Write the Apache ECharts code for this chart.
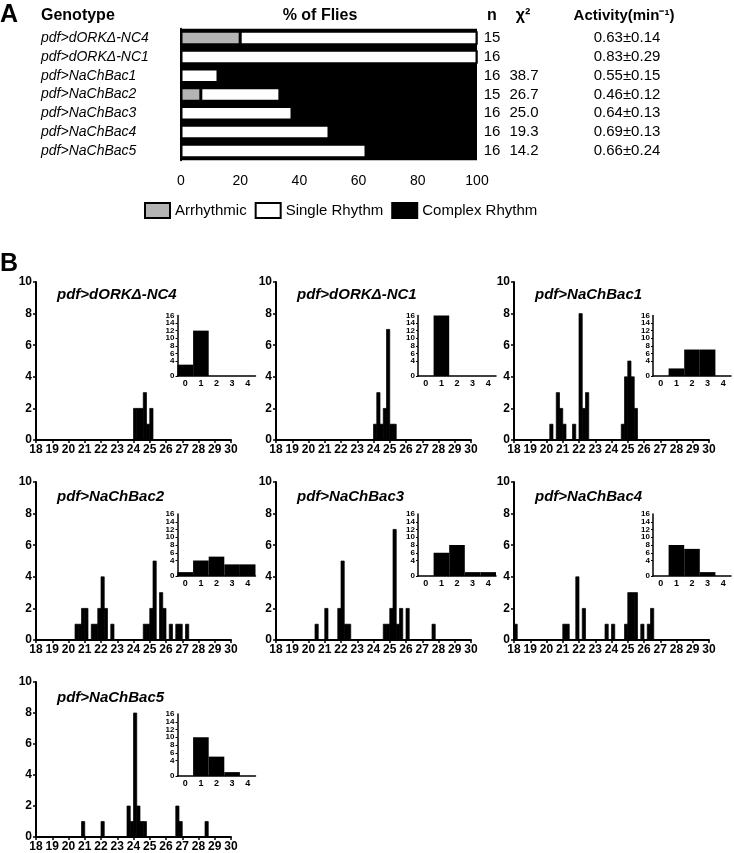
<!DOCTYPE html>
<html><head><meta charset="utf-8">
<script src="https://cdn.jsdelivr.net/npm/echarts@6/dist/echarts.min.js"></script>
<style>html,body{margin:0;padding:0;background:#fff}#c{width:734px;height:853px}</style>
</head><body><div id="c"></div>
<script>
// ---------- Panel A data ----------
const genotypes = ['pdf>dORKΔ-NC4', 'pdf>dORKΔ-NC1', 'pdf>NaChBac1', 'pdf>NaChBac2', 'pdf>NaChBac3', 'pdf>NaChBac4', 'pdf>NaChBac5'];
const pctArrhythmic = [20, 0, 0, 6.7, 0, 0, 0];
const pctSingle = [80, 100, 12.5, 26.7, 37.5, 50, 62.5];
const pctComplex = [0, 0, 87.5, 66.6, 62.5, 50, 37.5];
const nFlies = ['15', '16', '16', '15', '16', '16', '16'];
const chiSquare = ['', '', '38.7', '26.7', '25.0', '19.3', '14.2'];
const activity = ['0.63±0.14', '0.83±0.29', '0.55±0.15', '0.46±0.12', '0.64±0.13', '0.69±0.13', '0.66±0.24'];
const pctTicks = [0, 20, 40, 60, 80, 100];

// ---------- Panel B data (period histograms, bin lower edge in h, bin width 0.2 h) ----------
const BIN = 0.2;
const nc4Period = [24.0, 24.2, 24.4, 24.6, 24.8, 25.0];
const nc4Count  = [2, 2, 2, 3, 1, 2];
const nc1Period = [24.0, 24.2, 24.4, 24.6, 24.8, 25.0, 25.2];
const nc1Count  = [1, 3, 1, 2, 7, 1, 1];
const nab1Period = [20.2, 20.6, 20.8, 21.0, 21.6, 22.0, 22.2, 22.4, 24.6, 24.8, 25.0, 25.2, 25.4];
const nab1Count  = [1, 3, 2, 1, 1, 8, 2, 3, 1, 4, 5, 4, 2];
const nab2Period = [20.4, 20.6, 20.8, 21.0, 21.4, 21.6, 21.8, 22.0, 22.2, 22.6, 24.6, 24.8, 25.0, 25.2, 25.6, 25.8, 26.2, 26.6, 26.8, 27.2];
const nab2Count  = [1, 1, 2, 2, 1, 1, 2, 4, 2, 1, 1, 1, 2, 5, 3, 2, 1, 1, 1, 1];
const nab3Period = [20.4, 21.0, 21.8, 22.0, 22.2, 22.4, 24.6, 24.8, 25.0, 25.2, 25.4, 25.6, 26.0, 27.6];
const nab3Count  = [1, 2, 2, 5, 1, 1, 1, 1, 2, 7, 1, 2, 2, 1];
const nab4Period = [18.0, 21.0, 21.2, 21.8, 22.2, 23.6, 24.0, 24.8, 25.0, 25.2, 25.4, 25.8, 26.2, 26.4];
const nab4Count  = [1, 1, 1, 4, 2, 1, 1, 1, 3, 3, 3, 1, 1, 2];
const nab5Period = [20.8, 22.0, 23.6, 23.8, 24.0, 24.2, 24.4, 24.6, 26.6, 26.8, 28.4];
const nab5Count  = [1, 1, 2, 1, 8, 2, 1, 1, 2, 1, 1];

// insets: number of flies by number of rhythm components
const peakCats = ['0', '1', '2', '3', '4'];
const nc4Peaks  = [3, 12, 0, 0, 0];
const nc1Peaks  = [0, 16, 0, 0, 0];
const nab1Peaks = [0, 2, 7, 7, 0];
const nab2Peaks = [1, 4, 5, 3, 3];
const nab3Peaks = [0, 6, 8, 1, 1];
const nab4Peaks = [0, 8, 7, 1, 0];
const nab5Peaks = [0, 10, 5, 1, 0];

const histPeriods = [nc4Period, nc1Period, nab1Period, nab2Period, nab3Period, nab4Period, nab5Period];
const histCounts  = [nc4Count, nc1Count, nab1Count, nab2Count, nab3Count, nab4Count, nab5Count];
const insetCounts = [nc4Peaks, nc1Peaks, nab1Peaks, nab2Peaks, nab3Peaks, nab4Peaks, nab5Peaks];

// ---------- layout ----------
const FF = '"Liberation Sans", Arial, sans-serif';
const colLeft = [36, 276, 514];
const rowTop = [282, 482, 682];
const mainW = 195, mainH = 158;
const insetLeft = [177.5, 418, 653];
const insetTop = [315.5, 514, 714];
const insetH = [60.5, 62, 62];
const insetW = 78;
const titleX = [57, 297, 535];
const titleY = [295, 497, 698];

const grids = [{left: 181, top: 28.7, width: 296, height: 131.6, show: true, backgroundColor: '#000', borderWidth: 0}];
const xAxes = [{
  gridIndex: 0, type: 'value', min: 0, max: 100, interval: 20, offset: 2,
  axisLine: {lineStyle: {color: '#000', width: 2.5}},
  axisTick: {length: 8, lineStyle: {color: '#000', width: 2}},
  axisLabel: {color: '#000', fontSize: 14, fontFamily: FF, margin: 12, showMinLabel: true, showMaxLabel: true,
    formatter: v => pctTicks.includes(v) ? String(v) : ''},
  splitLine: {show: false}
}];
const catBase = {gridIndex: 0, type: 'category', inverse: true, axisTick: {show: false}, splitLine: {show: false}};
function colLabel(margin, extra) {
  return Object.assign({color: '#000', fontSize: 15, fontFamily: FF, align: 'center', margin: margin, interval: 0,
    showMinLabel: true, showMaxLabel: true}, extra || {});
}
const yAxes = [
  Object.assign({}, catBase, {data: genotypes, position: 'left',
    axisLine: {lineStyle: {color: '#000', width: 2}},
    axisLabel: {color: '#000', fontSize: 14, fontStyle: 'italic', fontFamily: FF, align: 'left', margin: 140,
      interval: 0, showMinLabel: true, showMaxLabel: true}}),
  Object.assign({}, catBase, {data: nFlies, position: 'right', axisLine: {show: false}, axisLabel: colLabel(15)}),
  Object.assign({}, catBase, {data: chiSquare, position: 'right', axisLine: {show: false}, axisLabel: colLabel(47)}),
  Object.assign({}, catBase, {data: activity, position: 'right', axisLine: {show: false}, axisLabel: colLabel(150)})
];
const barBase = {type: 'bar', stack: 'pct', xAxisIndex: 0, yAxisIndex: 0, barWidth: 13.5, animation: false};
const series = [
  Object.assign({}, barBase, {name: 'Arrhythmic', data: pctArrhythmic, itemStyle: {color: '#b4b4b4', borderColor: '#000', borderWidth: 1.5}}),
  Object.assign({}, barBase, {name: 'Single Rhythm', data: pctSingle, itemStyle: {color: '#fff', borderColor: '#000', borderWidth: 1.5}}),
  Object.assign({}, barBase, {name: 'Complex Rhythm', data: pctComplex, itemStyle: {color: '#000', borderColor: '#000', borderWidth: 1.5}})
];

function histItem(params, api) {
  const a = api.coord([api.value(0), api.value(1)]);
  const b = api.coord([api.value(0) + BIN, 0]);
  return {type: 'rect', shape: {x: a[0], y: a[1], width: b[0] - a[0], height: b[1] - a[1]},
    style: {fill: '#000', stroke: '#000', lineWidth: 0.7}};
}

const graphics = [];
function txt(x, y, text, font, align) {
  graphics.push({type: 'text', x: x, y: y, silent: true,
    style: {text: text, font: font, fill: '#000', align: align || 'left', verticalAlign: 'middle'}});
}
txt(0, 15, 'A', 'bold 25px ' + FF);
txt(41, 16, 'Genotype', 'bold 16px ' + FF);
txt(320, 16, '% of Flies', 'bold 16px ' + FF, 'center');
txt(492, 16, 'n', 'bold 16px ' + FF, 'center');
txt(523, 16, 'χ²', 'bold 16px ' + FF, 'center');
txt(624, 16, 'Activity(min⁻¹)', 'bold 15px ' + FF, 'center');
txt(0, 264, 'B', 'bold 25px ' + FF);

const insetLabelStyle = {color: '#000', fontSize: 8, fontWeight: 'bold', fontFamily: FF, margin: 3};

for (let i = 0; i < 7; i++) {
  const r = Math.floor(i / 3), c = i % 3;
  const gMain = grids.length;
  grids.push({left: colLeft[c], top: rowTop[r], width: mainW, height: mainH});
  xAxes.push({gridIndex: gMain, type: 'value', min: 18, max: 30, interval: 1,
    axisLine: {onZero: false, lineStyle: {color: '#000', width: 2}},
    axisTick: {length: 3, lineStyle: {color: '#000', width: 1.5}},
    axisLabel: {color: '#000', fontSize: 12, fontWeight: 'bold', fontFamily: FF, margin: 4,
      showMinLabel: true, showMaxLabel: true},
    splitLine: {show: false}});
  yAxes.push({gridIndex: gMain, type: 'value', min: 0, max: 10, interval: 2,
    axisLine: {show: true, lineStyle: {color: '#000', width: 2}},
    axisTick: {show: true, length: 3, lineStyle: {color: '#000', width: 1.5}},
    axisLabel: {color: '#000', fontSize: 12, fontWeight: 'bold', fontFamily: FF, margin: 4,
      showMinLabel: true, showMaxLabel: true},
    splitLine: {show: false}});
  series.push({type: 'custom', xAxisIndex: xAxes.length - 1, yAxisIndex: yAxes.length - 1,
    renderItem: histItem, encode: {x: 0, y: 1}, animation: false,
    data: histPeriods[i].map((p, k) => [p, histCounts[i][k]])});

  const gIn = grids.length;
  grids.push({left: insetLeft[c], top: insetTop[r], width: insetW, height: insetH[r]});
  xAxes.push({gridIndex: gIn, type: 'category', data: peakCats, boundaryGap: true,
    axisLine: {lineStyle: {color: '#000', width: 1.5}},
    axisTick: {show: false},
    axisLabel: {color: '#000', fontSize: 9, fontWeight: 'bold', fontFamily: FF, margin: 3, interval: 0,
      showMinLabel: true, showMaxLabel: true}});
  yAxes.push({gridIndex: gIn, type: 'value', min: 0, max: 16, interval: 2,
    axisLine: {show: true, lineStyle: {color: '#000', width: 1.5}},
    axisTick: {show: true, length: 2, lineStyle: {color: '#000', width: 1}},
    axisLabel: Object.assign({showMinLabel: true, showMaxLabel: false, hideOverlap: false}, insetLabelStyle),
    splitLine: {show: false}});
  const inY = yAxes.length - 1;
  // companion axis carrying only the top "16" label of the inset scale
  yAxes.push({gridIndex: gIn, type: 'value', min: 0, max: 16, interval: 16, position: 'left',
    axisLine: {show: false}, axisTick: {show: false}, splitLine: {show: false},
    axisLabel: Object.assign({showMinLabel: false, showMaxLabel: true,
      formatter: v => (v === 16 ? '16' : '')}, insetLabelStyle)});
  series.push({type: 'bar', xAxisIndex: xAxes.length - 1, yAxisIndex: inY,
    barWidth: '100%', barCategoryGap: '0%', animation: false,
    itemStyle: {color: '#000'}, data: insetCounts[i]});

  txt(titleX[c], titleY[r], genotypes[i], 'italic bold 15px ' + FF);
}

const option = {
  animation: false,
  backgroundColor: '#fff',
  grid: grids,
  xAxis: xAxes,
  yAxis: yAxes,
  legend: {
    data: ['Arrhythmic', 'Single Rhythm', 'Complex Rhythm'],
    left: 144, top: 202, padding: 0, itemWidth: 25, itemHeight: 15, itemGap: 8,
    icon: 'rect',
    itemStyle: {borderColor: '#000', borderWidth: 2},
    textStyle: {color: '#000', fontSize: 15, fontFamily: FF}
  },
  series: series,
  graphic: graphics
};

const chart = echarts.init(document.getElementById('c'), null, {renderer: 'canvas'});
chart.setOption(option);
</script></body></html>
